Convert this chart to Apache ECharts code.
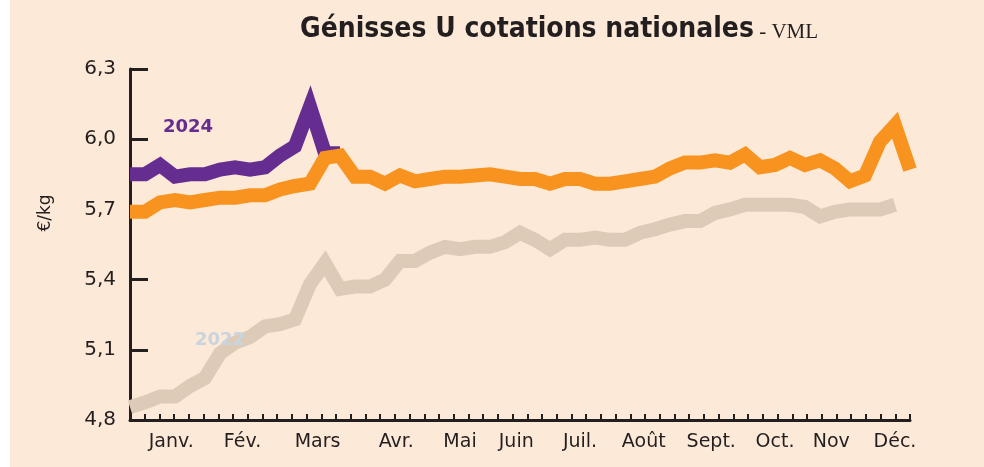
<!DOCTYPE html>
<html>
<head>
<meta charset="utf-8">
<title>Génisses U cotations nationales</title>
<script src="https://cdn.jsdelivr.net/npm/echarts@6/dist/echarts.min.js"></script>
<style>
html,body{margin:0;padding:0;background:#fff;}
#main{width:984px;height:467px;}
</style>
</head>
<body>
<div id="main"></div>
<script>
// cotations hebdomadaires (euros/kg), semaine 1 = index 0
var prix2022 = [4.855,4.875,4.90,4.90,4.945,4.98,5.085,5.13,5.155,5.20,5.21,5.23,5.38,5.47,5.36,5.37,5.37,5.40,5.48,5.48,
  5.515,5.54,5.53,5.54,5.54,5.56,5.60,5.57,5.53,5.57,5.57,5.58,5.57,5.57,5.60,5.615,5.635,5.65,5.65,5.685,
  5.70,5.72,5.72,5.72,5.72,5.71,5.67,5.69,5.70,5.70,5.70,5.72];
var prix2023 = [5.69,5.69,5.73,5.74,5.73,5.74,5.75,5.75,5.76,5.76,5.785,5.80,5.81,5.92,5.93,5.84,5.84,5.81,5.845,5.82,
  5.83,5.84,5.84,5.845,5.85,5.84,5.83,5.83,5.81,5.83,5.83,5.81,5.81,5.82,5.83,5.84,5.875,5.90,5.90,5.91,
  5.90,5.935,5.88,5.89,5.92,5.89,5.91,5.875,5.82,5.845,5.99,6.06,5.87];
var prix2024 = [5.85,5.85,5.89,5.84,5.85,5.85,5.87,5.88,5.87,5.88,5.93,5.97,6.14,5.94,5.94];

// libelles des mois et leur place (en semaines)
var mois = ['Janv.','Fév.','Mars','Avr.','Mai','Juin','Juil.','Août','Sept.','Oct.','Nov','Déc.'];
var moisPos = [2.75,7.5,12.5,17.75,22,25.75,30,34.25,38.75,43,46.75,51];

var yMin = 4.8, yMax = 6.3, yPas = 0.3;

var encre = '#231F20';
var fond = '#FDE9D7';

function points(arr) {
  var out = [];
  for (var i = 0; i < arr.length; i++) out.push([i, arr[i]]);
  return out;
}

function serie(nom, arr, couleur) {
  return {
    name: nom,
    type: 'line',
    xAxisIndex: 0,
    data: points(arr),
    symbol: 'none',
    silent: true,
    lineStyle: { width: 14, color: couleur, join: 'miter', cap: 'butt', miterLimit: 6 }
  };
}

var myChart = echarts.init(document.getElementById('main'));
var option = {
  animation: false,
  backgroundColor: fond,
  title: {
    text: '{a|Génisses U cotations nationales}{b| - VML}',
    left: 295,
    top: 11,
    textStyle: {
      rich: {
        a: { fontFamily: 'DejaVu Sans Condensed', fontWeight: 'bold', fontSize: 28, color: encre },
        b: { fontFamily: 'Liberation Serif', fontWeight: 'normal', fontSize: 21, color: encre, padding: [4, 0, 0, 0] }
      }
    }
  },
  grid: { left: 130, right: 74, top: 69, bottom: 47, outerBoundsMode: 'none' },
  xAxis: [
    { // axe des donnees
      type: 'value', min: 0, max: 52, show: false
    },
    { // graduations hebdo
      type: 'value', min: 0, max: 53, interval: 1, position: 'bottom',
      axisLine: { show: true, lineStyle: { color: encre, width: 3 } },
      axisTick: { show: true, inside: true, length: 6, lineStyle: { color: encre, width: 2 } },
      axisLabel: { show: false },
      splitLine: { show: false }
    },
    { // mois
      type: 'value', min: 0, max: 52, interval: 0.25, position: 'bottom',
      axisLine: { show: false },
      axisTick: { show: false },
      splitLine: { show: false },
      axisLabel: {
        margin: 13,
        fontFamily: 'DejaVu Sans',
        fontSize: 19,
        color: encre,
        formatter: function (v) {
          for (var k = 0; k < moisPos.length; k++) {
            if (Math.abs(moisPos[k] - v) < 0.01) return mois[k];
          }
          return '';
        }
      }
    }
  ],
  yAxis: {
    type: 'value', min: yMin, max: yMax, interval: yPas,
    axisLine: { show: true, lineStyle: { color: encre, width: 3 } },
    axisTick: { show: true, inside: true, length: 18, lineStyle: { color: encre, width: 3 } },
    splitLine: { show: false },
    axisLabel: {
      margin: 14,
      fontFamily: 'DejaVu Sans',
      fontSize: 20,
      color: encre,
      formatter: function (v) { return v.toFixed(1).replace('.', ','); }
    }
  },
  graphic: [
    { type: 'rect', left: 0, top: 0, shape: { width: 10, height: 467 }, style: { fill: '#fff' } },
    { type: 'text', x: 46, y: 213, rotation: Math.PI / 2,
      style: { text: '€/kg', font: '17px "DejaVu Sans"', fill: encre, textAlign: 'center', textVerticalAlign: 'middle' } },
    { type: 'text', left: 163, top: 118, z: 100,
      style: { text: '2024', font: 'bold 18px "DejaVu Sans"', fill: '#662D91' } },
    { type: 'text', left: 195, top: 331, z: 100,
      style: { text: '2022', font: 'bold 18px "DejaVu Sans"', fill: '#C9D4DE' } }
  ],
  series: [
    serie('2022', prix2022, '#DDCBB8'),
    serie('2024', prix2024, '#662D91'),
    serie('2023', prix2023, '#F7931E')
  ]
};
myChart.setOption(option);
</script>
</body>
</html>
